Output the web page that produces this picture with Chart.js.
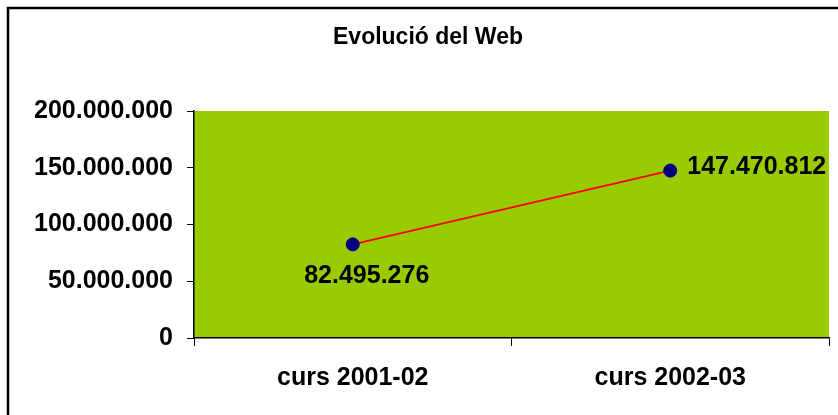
<!DOCTYPE html>
<html>
<head>
<meta charset="utf-8">
<title>Evolució del Web</title>
<script src="https://cdn.jsdelivr.net/npm/chart.js@4.4.1/dist/chart.umd.min.js"></script>
<style>
  html, body { margin: 0; padding: 0; background: #fff; }
  #wrap { width: 838px; height: 415px; position: relative; }
</style>
</head>
<body>
<div id="wrap"><canvas id="chart" width="838" height="415"></canvas></div>
<script>
// Chart data
const titleText = 'Evolució del Web';
const categories = ['curs 2001-02', 'curs 2002-03'];
const visits = [82495276, 147470812];
const yTicks = [0, 50000000, 100000000, 150000000, 200000000];

const FONT = '"Liberation Sans", Arial, sans-serif';

// 82495276 -> "82.495.276"
const fmt = v => String(Math.round(v)).replace(/\B(?=(\d{3})+(?!\d))/g, '.');

// green plot background + outer frame + title
const decor = {
  id: 'decor',
  beforeDraw(chart) {
    const { ctx, chartArea: a } = chart;
    ctx.save();
    ctx.fillStyle = '#99cc00';
    ctx.fillRect(a.left, a.top, a.right - a.left, a.bottom - a.top);
    ctx.strokeStyle = '#000';
    ctx.lineWidth = 2.5;
    ctx.strokeRect(8, 8, chart.width + 20, chart.height + 20);
    ctx.fillStyle = '#000';
    ctx.font = 'bold 23px ' + FONT;
    ctx.textAlign = 'center';
    ctx.textBaseline = 'middle';
    ctx.fillText(titleText, 428, 38);
    ctx.restore();
  }
};

// value labels next to the points
const valueLabels = {
  id: 'valueLabels',
  afterDatasetsDraw(chart) {
    const { ctx } = chart;
    const pts = chart.getDatasetMeta(0).data;
    ctx.save();
    ctx.fillStyle = '#000';
    ctx.font = 'bold 25px ' + FONT;
    ctx.textBaseline = 'middle';
    pts.forEach((p, i) => {
      if (i === 0) {
        ctx.textAlign = 'center';
        ctx.fillText(fmt(visits[i]), p.x + 14, p.y + 32);
      } else {
        ctx.textAlign = 'left';
        ctx.fillText(fmt(visits[i]), p.x + 17, p.y - 4);
      }
    });
    ctx.restore();
  }
};

new Chart(document.getElementById('chart'), {
  type: 'line',
  data: {
    labels: categories,
    datasets: [{
      data: visits,
      borderColor: '#ff0000',
      borderWidth: 2,
      pointRadius: 6.5,
      pointBackgroundColor: '#000080',
      pointBorderColor: '#000080',
      pointBorderWidth: 1,
      tension: 0,
    }],
  },
  options: {
    responsive: false,
    animation: false,
    layout: { padding: { top: 111, right: 9, left: 0, bottom: 0 } },
    plugins: { legend: { display: false }, title: { display: false }, tooltip: { enabled: false } },
    scales: {
      x: {
        offset: true,
        grid: { offset: true, drawOnChartArea: false, tickLength: 8, color: '#000', lineWidth: 1 },
        border: { display: true, color: '#000', width: 1.5 },
        ticks: { color: '#000', font: { family: FONT, size: 25, weight: 'bold' }, padding: 17, maxRotation: 0 },
        afterFit(s) { s.height = 77; },
      },
      y: {
        min: 0,
        max: 200000000,
        afterBuildTicks(s) { s.ticks = yTicks.map(v => ({ value: v })); },
        grid: { drawOnChartArea: false, tickLength: 7, color: '#000', lineWidth: 1 },
        border: { display: true, color: '#000', width: 1.5 },
        ticks: { color: '#000', font: { family: FONT, size: 25, weight: 'bold' }, padding: 14, callback: v => fmt(v) },
        afterFit(s) { s.width = 194; },
      },
    },
  },
  plugins: [decor, valueLabels],
});
</script>
</body>
</html>
